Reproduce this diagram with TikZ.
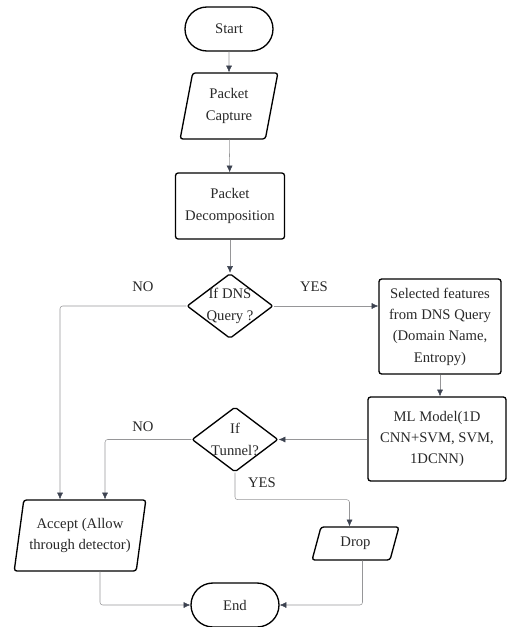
\documentclass[tikz,border=0pt]{standalone}
\usepackage{fontspec}
\setmainfont{Liberation Serif}
\usetikzlibrary{shapes.geometric,shapes.misc,arrows.meta}
\definecolor{linegray}{RGB}{150,150,152}
\definecolor{tipgray}{RGB}{60,66,80}
\definecolor{textgray}{RGB}{40,40,40}
\begin{document}
\begin{tikzpicture}[x=0.75pt,y=-0.75pt,font=\fontsize{11}{16}\selectfont,text=textgray]
    \tikzstyle{terminal}=[rounded rectangle,draw=black,line width=1pt,minimum width=66pt,minimum height=33pt,inner sep=0pt]
    \tikzstyle{io}=[trapezium,trapezium stretches=true,draw=black,line width=1pt,rounded corners=2pt,align=center,inner sep=0pt]
    \tikzstyle{process}=[rectangle,draw=black,line width=1pt,rounded corners=2pt,align=center,inner sep=0pt]
    \tikzstyle{decision}=[diamond,draw=black,line width=1pt,rounded corners=1.5pt,minimum width=64.5pt,minimum height=48.75pt,inner sep=0pt]
    \tikzstyle{flow}=[draw=linegray,rounded corners=2pt,-{Latex[length=5pt,width=4.5pt,color=tipgray]}]
    \useasboundingbox (0,0) rectangle (506,627);

    \node[terminal] (start) at (229,29) {Start};
    \node[io,trapezium left angle=77,trapezium right angle=103,minimum width=73.5pt,minimum height=49.5pt] (capture) at (229,106) {Packet\\Capture};
    \node[process,minimum width=81.75pt,minimum height=49.5pt] (decomp) at (230,206) {Packet\\Decomposition};
    \node[decision,label={[align=center]center:If DNS\\Query ?}] (dns) at (230,306) {};
    \node[process,minimum width=91.5pt,minimum height=71.25pt] (features) at (440,326.5) {Selected features\\from DNS Query\\(Domain Name,\\Entropy)};
    \node[process,minimum width=103.5pt,minimum height=63pt] (model) at (437,439) {ML Model(1D\\CNN+SVM, SVM,\\1DCNN)};
    \node[decision,label={[align=center]center:If\\Tunnel?}] (tunnel) at (235,439.5) {};
    \node[io,trapezium left angle=76,trapezium right angle=104,minimum width=99pt,minimum height=53.25pt] (accept) at (80,535.5) {Accept (Allow\\through detector)};
    \node[io,trapezium left angle=73,trapezium right angle=107,minimum width=65.25pt,minimum height=24.75pt] (drop) at (355.5,543.5) {Drop};
    \node[terminal] (end) at (235,605) {End};

    % branch labels
    \node (no-dns) at (143,287) {NO};
    \node (yes-dns) at (314,287) {YES};
    \node (no-tunnel) at (143,427) {NO};
    \node (yes-tunnel) at (262,483) {YES};

    \draw[flow] (start) -- (capture);
    \draw[flow] (capture) -- (decomp);
    \draw[flow] (decomp) -- (dns);
    \draw[flow] (dns.east) -- (features.west |- dns.east);
    \draw[flow] (features) -- (features |- model.north);
    \draw[flow] (model.west |- tunnel.east) -- (tunnel.east);
    \draw[flow] (dns.west) -| ([shift={(-20,0)}]accept.north);
    \draw[flow] (tunnel.west) -| ([shift={(25,0)}]accept.north);
    \draw[flow] (tunnel.south) -- ++(0,27) -| ([shift={(-6,0)}]drop.north);
    \draw[flow] ([shift={(20,0)}]accept.south) |- (end.west);
    \draw[flow] ([shift={(7,0)}]drop.south) |- (end.east);
\end{tikzpicture}
\end{document}
